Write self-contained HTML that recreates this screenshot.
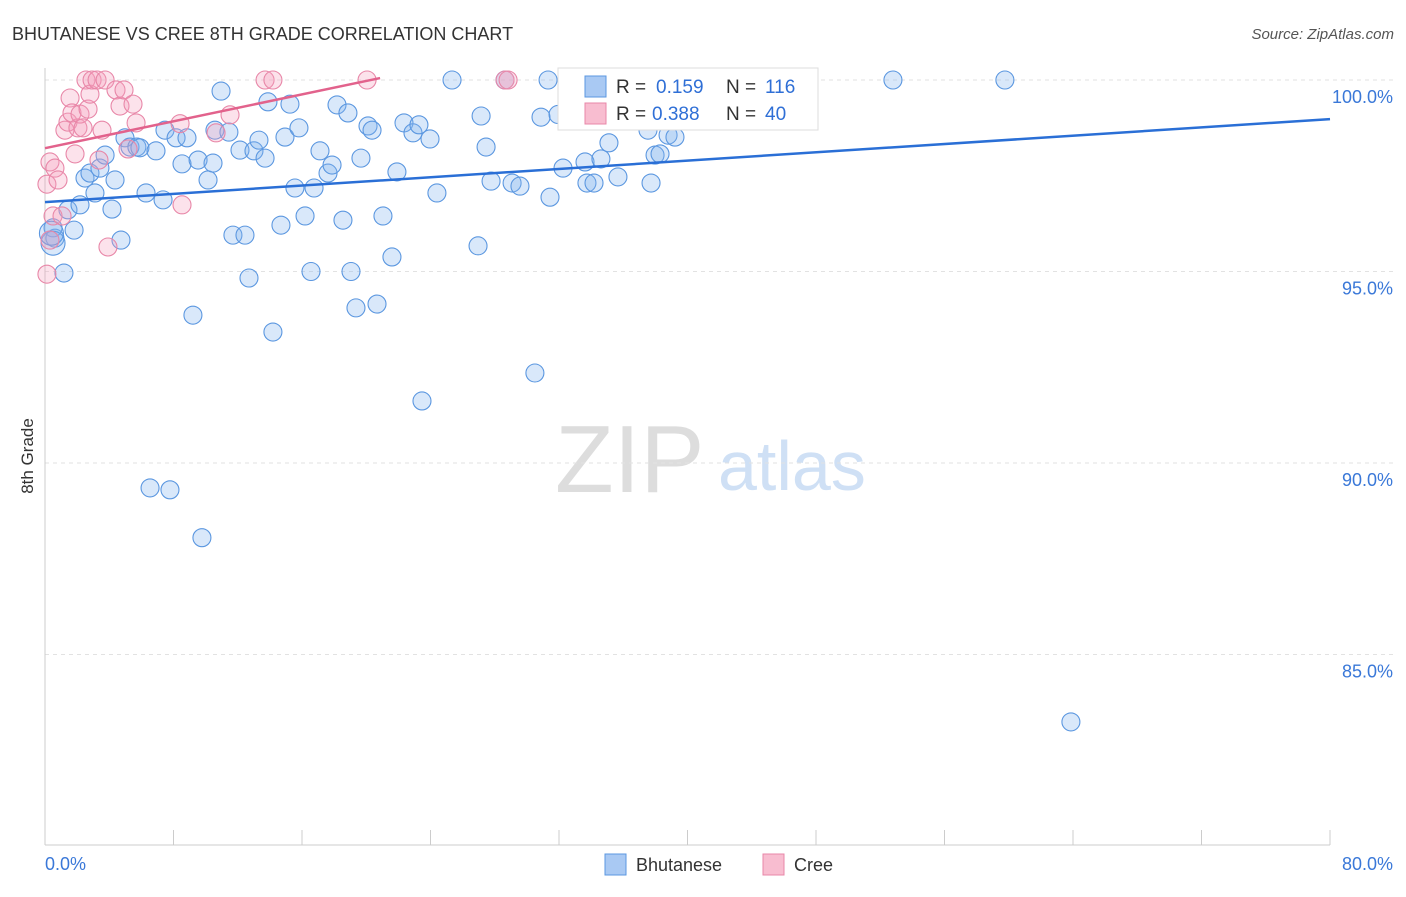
<!DOCTYPE html>
<html><head><meta charset="utf-8"><style>
body{margin:0;background:#fff;font-family:"Liberation Sans",sans-serif;}
svg text{font-family:"Liberation Sans",sans-serif;}
</style></head><body>
<svg id="chart" width="1406" height="892" xmlns="http://www.w3.org/2000/svg">
<text x="12" y="40" font-size="18" fill="#333">BHUTANESE VS CREE 8TH GRADE CORRELATION CHART</text>
<text x="1394" y="39" font-size="15" fill="#555" font-style="italic" text-anchor="end">Source: ZipAtlas.com</text>
<text transform="translate(33,456) rotate(-90)" font-size="17" fill="#333" text-anchor="middle">8th Grade</text>
<g>
<text x="555" y="492" font-size="96" fill="#ddd" font-family="Liberation Serif,serif">ZIP</text>
<text x="718" y="490" font-size="70" fill="#cfe0f5">atlas</text>
</g>
<g id="grid"></g><g id="axes"></g><g id="blue"></g><g id="pink"></g><g id="trends"></g>
<g>
<rect x="558" y="68" width="260" height="62" fill="#fff" stroke="#ddd"/>
<rect x="585" y="76" width="21" height="21" fill="#a9c9f3" stroke="#5b97e0"/>
<text x="616" y="93" font-size="19" fill="#333">R = </text><text x="656" y="93" font-size="19" fill="#2f6fd6">0.159</text>
<text x="726" y="93" font-size="19" fill="#333">N = </text><text x="765" y="93" font-size="19" fill="#2f6fd6">116</text>
<rect x="585" y="103" width="21" height="21" fill="#f8bdd0" stroke="#e887a8"/>
<text x="616" y="120" font-size="19" fill="#333">R = </text><text x="652" y="120" font-size="19" fill="#2f6fd6">0.388</text>
<text x="726" y="120" font-size="19" fill="#333">N = </text><text x="765" y="120" font-size="19" fill="#2f6fd6">40</text>
</g>
<g>
<rect x="605" y="854" width="21" height="21" fill="#a9c9f3" stroke="#5b97e0"/>
<text x="636" y="871" font-size="18" fill="#333">Bhutanese</text>
<rect x="763" y="854" width="21" height="21" fill="#f8bdd0" stroke="#e887a8"/>
<text x="794" y="871" font-size="18" fill="#333">Cree</text>
</g>
</svg>
<script>
const yTicks=[100,95,90,85];
const yTickLabels=["100.0%","95.0%","90.0%","85.0%"];
const xTickLabels=["0.0%","80.0%"];
const blueX=[0.62,1.18,0.5,1.43,1.81,2.18,2.49,2.8,3.11,3.42,3.74,4.17,4.36,4.73,4.98,5.29,5.72,5.91,6.29,6.91,7.35,7.47,7.78,6.54,8.16,8.53,8.84,9.21,9.53,9.77,10.15,10.46,10.58,10.96,11.45,11.7,12.14,12.45,12.7,13.01,13.32,13.7,13.88,14.19,14.69,14.94,15.25,15.56,15.81,16.19,16.56,16.75,17.12,17.62,17.87,18.18,18.55,18.86,19.05,19.36,19.67,20.11,20.36,20.67,21.04,21.6,21.91,22.35,22.91,23.28,23.47,23.97,24.4,25.34,26.96,27.15,27.46,27.77,28.64,29.08,29.57,30.5,30.88,31.32,31.44,31.94,32.25,32.56,33.62,33.74,34.18,34.61,35.11,35.67,36.11,36.55,37.54,37.73,37.98,38.29,38.79,39.22,39.78,42.96,44.51,45.01,46.07,52.79,59.76,63.87,0.5,0.4];
const blueY=[95.87,94.96,96.14,96.61,96.08,96.74,97.44,97.57,97.05,97.7,98.04,96.63,97.39,95.82,98.49,98.25,98.25,98.23,97.05,98.15,96.87,98.69,89.3,89.35,98.49,97.81,98.49,93.86,97.91,88.05,97.39,97.83,98.69,99.71,98.64,95.95,98.17,95.95,94.83,98.15,98.43,97.96,99.43,93.42,96.21,98.51,99.37,97.18,98.75,96.45,95.0,97.18,98.15,97.57,97.78,99.35,96.34,99.14,95.0,94.05,97.96,98.8,98.69,94.15,96.45,95.38,97.6,98.88,98.62,98.83,91.62,98.46,97.05,100,95.67,99.06,98.25,97.36,100,97.31,97.23,92.35,99.03,100,96.94,99.1,97.7,99.43,97.86,97.31,97.31,97.94,98.36,97.47,99.06,99.0,98.69,97.31,98.04,98.07,98.56,98.51,99.0,100,100,100,100,100,100,83.24,95.74,96.0];
const pinkX=[0.12,0.12,0.31,0.5,0.62,0.81,1.06,1.24,1.43,1.56,1.68,1.87,2.05,2.18,2.37,2.55,2.68,2.8,2.93,3.24,3.36,3.55,3.74,3.92,4.42,4.67,4.92,5.17,5.48,5.67,8.41,8.53,10.65,11.52,13.7,14.19,20.05,28.64,28.83,0.31];
const pinkY=[94.93,97.28,97.86,96.45,97.7,97.39,96.45,98.69,98.9,99.53,99.14,98.07,98.75,99.11,98.75,100,99.24,99.63,100,100,97.91,98.69,100,95.64,99.74,99.32,99.74,98.2,99.37,98.88,98.86,96.74,98.62,99.09,100,100,100,100,100,95.82];
const blueTrend=[[0,96.81],[80,98.98]];
const pinkTrend=[[0,98.22],[20.86,100.05]];
const NS="http://www.w3.org/2000/svg";
const X=v=>45+v/80*1285, Y=v=>80+(100-v)*38.3;
function mk(t,a,p){const e=document.createElementNS(NS,t);for(const k in a)e.setAttribute(k,a[k]);document.getElementById(p).appendChild(e);return e;}
yTicks.forEach((t,i)=>{
 const l=mk('line',{x1:45,x2:1394,y1:Y(t),y2:Y(t),stroke:'#e2e2e2','stroke-dasharray':'4,4'},'grid');
 
 
 const tx=mk('text',{x:1393,y:Y(t)+23,'font-size':18,fill:'#3a78d8','text-anchor':'end'},'grid');
 tx.textContent=yTickLabels[i];
 
 
});
const ax=mk('line',{x1:45,x2:45,y1:68,y2:845,stroke:'#ccc'},'axes');


const bx=mk('line',{x1:45,x2:1330,y1:845,y2:845,stroke:'#ccc'},'axes');


for(let i=0;i<=10;i++){const t=mk('line',{x1:X(i*8),x2:X(i*8),y1:830,y2:845,stroke:'#ccc'},'axes');
 
 }
[[0,'start'],[80,'end']].forEach((p,i)=>{const t=mk('text',{x:i?1393:45,y:870,'font-size':18,fill:'#3a78d8','text-anchor':p[1]},'axes');t.textContent=xTickLabels[i];
 
 });
const nB=blueX.length;
blueX.forEach((v,i)=>{const c=mk('circle',{cx:X(v),cy:Y(blueY[i]),r:(i>=nB-2?12:9),fill:'rgba(130,178,238,0.3)',stroke:'#5b97e0','stroke-width':1.1},'blue');
 
 });
pinkX.forEach((v,i)=>{const c=mk('circle',{cx:X(v),cy:Y(pinkY[i]),r:9,fill:'rgba(245,160,190,0.3)',stroke:'#e887a8','stroke-width':1.1},'pink');
 
 });
const bt=mk('line',{x1:X(blueTrend[0][0]),y1:Y(blueTrend[0][1]),x2:X(blueTrend[1][0]),y2:Y(blueTrend[1][1]),stroke:'#2a6fd6','stroke-width':2.5},'trends');


const pt=mk('line',{x1:X(pinkTrend[0][0]),y1:Y(pinkTrend[0][1]),x2:X(pinkTrend[1][0]),y2:Y(pinkTrend[1][1]),stroke:'#e2628c','stroke-width':2.5},'trends');


</script>
</body></html>
